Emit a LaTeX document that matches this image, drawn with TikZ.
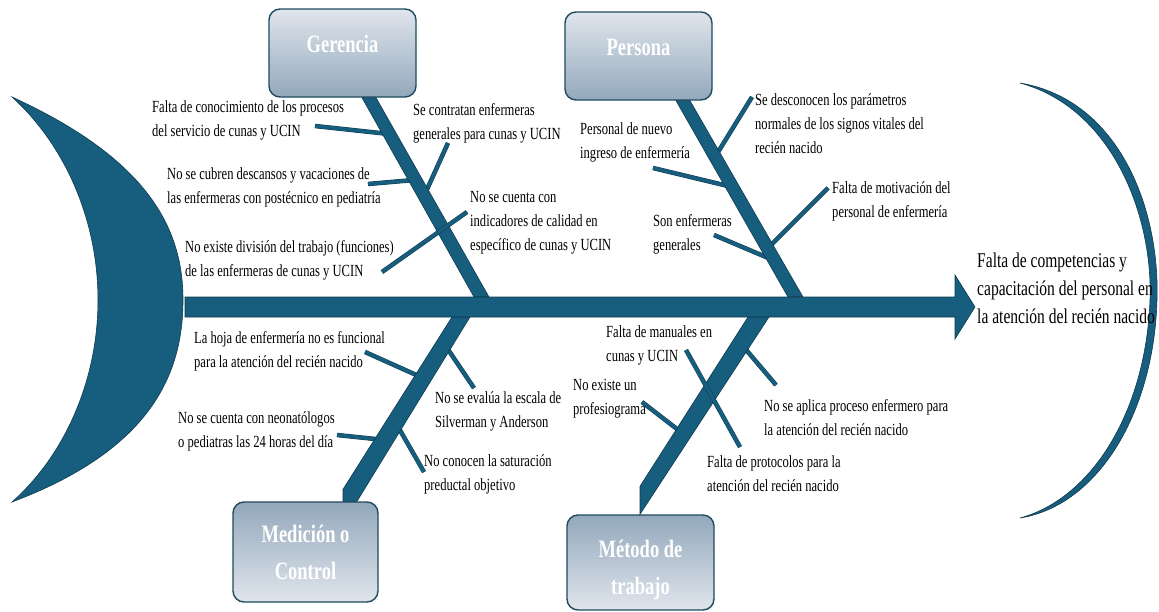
\documentclass[tikz,border=0pt]{standalone}
\usepackage{fontspec}
\setmainfont{Liberation Serif}[FakeStretch=0.74]

\definecolor{fishblue}{HTML}{175D7E}
\definecolor{fishedge}{HTML}{0E3B50}
\definecolor{boxlight}{HTML}{E0E5EC}
\definecolor{boxdark}{HTML}{93A8BC}
\definecolor{boxedge}{HTML}{1E4A5E}

\begin{document}
\begin{tikzpicture}[x=1pt,y=-1pt,
    bone/.style={fill=fishblue, draw=fishedge, line width=0.6pt},
    sub/.style={draw=fishedge, line width=0.5pt, double=fishblue, double distance=3.5pt},
    topbox/.style={draw=boxedge, line width=1.4pt, rounded corners=11pt, top color=boxlight, bottom color=boxdark,
        minimum width=147pt, minimum height=88pt, text=white, font=\fontsize{25}{37}\selectfont\bfseries, align=center},
    botbox/.style={topbox, top color=boxdark, bottom color=boxlight},
    cause/.style={align=left, anchor=west, inner sep=0pt, font=\fontsize{17}{24}\selectfont}]
    \useasboundingbox (0,0) rectangle (1159,611);

    % head and tail
    \draw[bone] (12,97) .. controls (150,160) and (183,230) .. (183,300) .. controls (183,375) and (150,450) .. (12,502)
        .. controls (65,455) and (98,380) .. (98,300) .. controls (98,220) and (65,145) .. (12,97) -- cycle;
    \draw[bone] (1020,83) .. controls (1120,100) and (1160,210) .. (1157,300) .. controls (1154,410) and (1100,505) .. (1020,518)
        .. controls (1093,498) and (1146,410) .. (1150,300) .. controls (1153,215) and (1112,108) .. (1020,83) -- cycle;
    \node (head) at (977,288) [cause, font=\fontsize{21}{28}\selectfont] {Falta de competencias y\\capacitación del personal en\\la atención del recién nacido};

    \node (ger) at (342.5,53) [topbox, text depth=18pt] {Gerencia};
    \node (per) at (638.5,56) [topbox, text depth=18pt] {Persona};
    \node (med) at (305.5,552) [botbox, minimum width=145pt, minimum height=100pt] {Medición o\\Control};
    \node (met) at (640.5,562.5) [botbox, minimum height=95pt] {\rule{0pt}{32pt}Método de\\trabajo};

    \foreach \xa/\ya/\xb/\yb in {315/126/389/134, 368/184/414/180, 448/143/424/196, 653/168/728/186,
        752/97/715/157, 828/188/768/248, 714/235/773/260, 365/352/423/378, 337/435/385/440,
        474/388/445/345, 424/472/397/425, 642/402/686/436, 776/385/742/345}
        \draw[sub] (\xa,\ya) -- (\xb,\yb);

    \draw[bone] ([xshift=19.5pt]ger.south) -- ([xshift=33.5pt]ger.south) -- (489,297) -- (474,297) -- cycle;
    \draw[bone] ([xshift=37.5pt]per.south) -- ([xshift=51.5pt]per.south) -- (803,297) -- (788,297) -- cycle;
    \draw[bone] (452,317) -- (470,317) -- ([xshift=51.5pt]med.north) -- ([xshift=37.5pt]med.north)
        -- ([xshift=37.5pt,yshift=12pt]med.north) -- cycle;
    \draw[bone] (748,317) -- (769,317) -- ([xshift=-0.5pt]met.north) -- ([xshift=-0.5pt,yshift=28pt]met.north) -- cycle;
    \draw[bone] (185,297) -- (955,297) -- (955,275) -- (975,307) -- (955,339) -- (955,317) -- (185,317) -- cycle;

    \draw[sub] (382,272) -- (467,212);
    \draw[sub] (686,350) -- (740,447);

    \node (ger1) at (152,120) [cause] {Falta de conocimiento de los procesos\\del servicio de cunas y UCIN};
    \node (ger2) at (167,187) [cause] {No se cubren descansos y vacaciones de\\las enfermeras con postécnico en pediatría};
    \node (ger3) at (413,123) [cause] {Se contratan enfermeras\\generales para cunas y UCIN};
    \node (ger4) at (185,260) [cause] {No existe división del trabajo (funciones)\\de las enfermeras de cunas y UCIN};
    \node (ger5) at (470,223) [cause] {No se cuenta con\\indicadores de calidad en\\específico de cunas y UCIN};
    \node (per1) at (580,142) [cause] {Personal de nuevo\\ingreso de enfermería};
    \node (per2) at (755,124) [cause] {Se desconocen los parámetros\\normales de los signos vitales del\\recién nacido};
    \node (per3) at (832,201) [cause] {Falta de motivación del\\personal de enfermería};
    \node (per4) at (653,234) [cause] {Son enfermeras\\generales};
    \node (med1) at (194,351) [cause] {La hoja de enfermería no es funcional\\para la atención del recién nacido};
    \node (med2) at (178,431) [cause] {No se cuenta con neonatólogos\\o pediatras las 24 horas del día};
    \node (med3) at (435,411) [cause] {No se evalúa la escala de\\Silverman y Anderson};
    \node (med4) at (424,474) [cause] {No conocen la saturación\\preductal objetivo};
    \node (met1) at (606,345) [cause] {Falta de manuales en\\cunas y UCIN};
    \node (met2) at (573,399) [cause] {No existe un\\profesiograma};
    \node (met3) at (764,418) [cause] {No se aplica proceso enfermero para\\la atención del recién nacido};
    \node (met4) at (707,474) [cause] {Falta de protocolos para la\\atención del recién nacido};
\end{tikzpicture}
\end{document}
